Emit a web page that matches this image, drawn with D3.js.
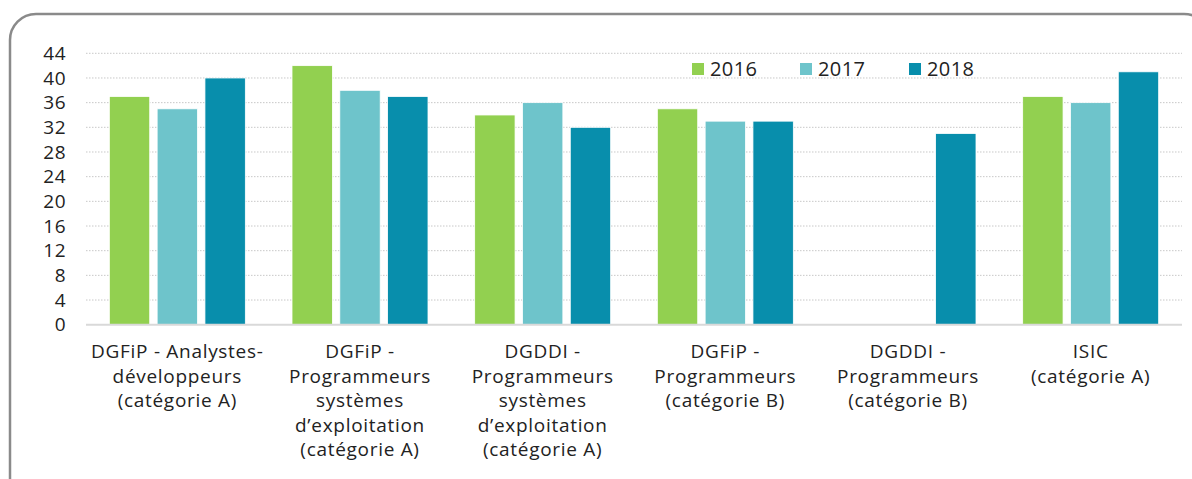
<!DOCTYPE html>
<html><head><meta charset="utf-8">
<script src="https://cdn.jsdelivr.net/npm/d3@7"></script>
<style>body{margin:0;background:#fff}svg{display:block}text{font-family:"Open Sans","Noto Sans",sans-serif;fill:#222}</style>
</head><body><svg id="c" width="1192" height="479"></svg>
<script>
const categories = [
  ["DGFiP - Analystes-","développeurs","(catégorie A)"],
  ["DGFiP -","Programmeurs","systèmes","d’exploitation","(catégorie A)"],
  ["DGDDI -","Programmeurs","systèmes","d’exploitation","(catégorie A)"],
  ["DGFiP -","Programmeurs","(catégorie B)"],
  ["DGDDI -","Programmeurs","(catégorie B)"],
  ["ISIC","(catégorie A)"]
];
const years = ["2016","2017","2018"];
const v2016 = [37, 42, 34, 35, null, 37];
const v2017 = [35, 38, 36, 33, null, 36];
const v2018 = [40, 37, 32, 33, 31, 41];
const yTicks = [0,4,8,12,16,20,24,28,32,36,40,44];
const colors = ["#92D050","#6EC4CB","#088EAC"];

const series = [v2016, v2017, v2018];
const svg = d3.select("#c");
const L = 86, R = 1182, T = 53.3, B = 324.7;

svg.append("rect").attr("x",10).attr("y",14).attr("width",1200).attr("height",500)
  .attr("rx",26).attr("fill","none").attr("stroke","#8a8a8a").attr("stroke-width",2.5);

const x0 = d3.scaleBand().domain(d3.range(categories.length)).range([L,R]);
const x1 = d3.scaleBand().domain(years).range([0,136]).paddingInner(0.155);
const y = d3.scaleLinear().domain([0,44]).range([B,T]);

// gridlines
svg.append("g").selectAll("line").data(yTicks.filter(t=>t>0)).join("line")
  .attr("x1",L).attr("x2",R).attr("y1",d=>y(d)).attr("y2",d=>y(d))
  .attr("stroke","#c8c8c8").attr("stroke-width",1).attr("stroke-dasharray","1.5,1.5");

// y axis labels
const ya = svg.append("g").attr("transform",`translate(66,0)`)
  .call(d3.axisLeft(y).tickValues(yTicks).tickSize(0).tickPadding(0));
ya.select(".domain").remove();
ya.selectAll("text").attr("font-size",19).attr("fill","#222").attr("font-family",'"Open Sans","Noto Sans",sans-serif').attr("letter-spacing",0.5);

// bars
const g = svg.append("g");
categories.forEach((c,i)=>{
  const off = x0(i) + (x0.bandwidth()-136)/2;
  series.forEach((s,j)=>{
    if (s[i]==null) return;
    g.append("rect").attr("x",off + x1(years[j])).attr("width",x1.bandwidth())
      .attr("y",y(s[i])).attr("height",y(0)-y(s[i]))
      .attr("fill",colors[j]).attr("stroke","#fff").attr("stroke-width",0.8);
  });
});

// baseline
svg.append("line").attr("x1",L).attr("x2",R).attr("y1",B).attr("y2",B)
  .attr("stroke","#d9d9d9").attr("stroke-width",2);

// x labels
const xl = svg.append("g");
categories.forEach((c,i)=>{
  const cx = x0(i)+x0.bandwidth()/2;
  const t = xl.append("text").attr("text-anchor","middle").attr("font-size",19)
    .attr("letter-spacing",0.7).attr("x", cx);
  c.forEach((line,k)=>{
    t.append("tspan").attr("x", cx).attr("y", 358 + k*24.5).text(line);
  });
});

// legend
const legX = [692, 800, 909];
years.forEach((yr,j)=>{
  svg.append("rect").attr("x",legX[j]).attr("y",63).attr("width",12).attr("height",12).attr("fill",colors[j]);
  svg.append("text").attr("x",legX[j]+18).attr("y",75.5).attr("font-size",20).attr("letter-spacing",0.4).text(yr);
});
</script></body></html>
